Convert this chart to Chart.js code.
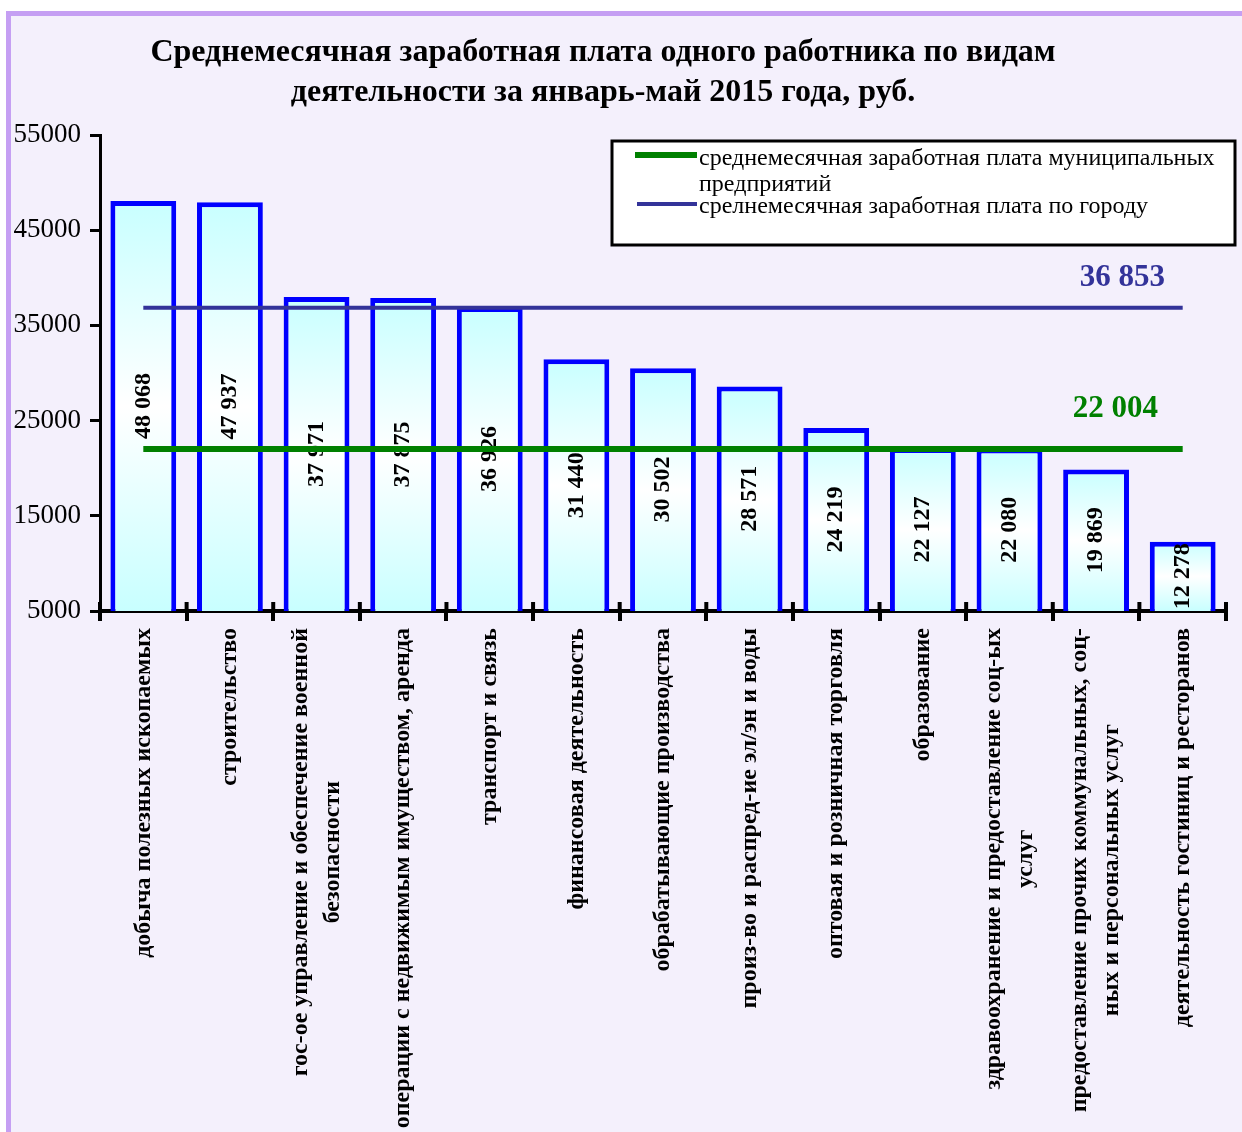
<!DOCTYPE html>
<html>
<head>
<meta charset="utf-8">
<title>Среднемесячная заработная плата</title>
<script src="https://cdn.jsdelivr.net/npm/chart.js@4.4.1/dist/chart.umd.min.js"></script>
<style>
  html, body { margin: 0; padding: 0; background: #fff; }
  #frame {
    position: absolute; left: 6px; top: 11px; width: 1236px; height: 1121px;
    box-sizing: border-box; background: #f4f0fc;
    border-left: 5px solid #c59ff3; border-top: 5px solid #c59ff3;
  }
  #wrap { position: absolute; left: 0; top: 0; width: 1242px; height: 1132px; }
</style>
</head>
<body>
<div id="frame"></div>
<div id="wrap"><canvas id="wageChart"></canvas></div>
<script>
// chart data
const titleLines = [
  'Среднемесячная заработная плата одного работника по видам',
  'деятельности за январь-май 2015 года, руб.'
];
const categories = [
  ['добыча полезных ископаемых'],
  ['строительство'],
  ['гос-ое управление и обеспечение военной', 'безопасности'],
  ['операции с недвижимым имуществом, аренда'],
  ['транспорт и связь'],
  ['финансовая деятельность'],
  ['обрабатывающие производства'],
  ['произ-во и распред-ие эл/эн и воды'],
  ['оптовая и розничная торговля'],
  ['образование'],
  ['здравоохранение и предоставление соц-ых', 'услуг'],
  ['предоставление прочих коммунальных, соц-', 'ных и персональных услуг'],
  ['деятельность гостиниц и ресторанов']
];
const wages = [48068, 47937, 37971, 37875, 36926, 31440, 30502, 28571, 24219, 22127, 22080, 19869, 12278];
const municipalAvg = 22004;
const cityAvg = 36853;
const municipalLabel = ['среднемесячная заработная плата муниципальных', 'предприятий'];
const cityLabel = ['срелнемесячная заработная плата по городу'];
const yMin = 5000, yMax = 55000, yStep = 10000;

const SERIF = '"Liberation Serif", "Times New Roman", serif';
const GREEN = '#008000';
const NAVY = '#333399';

const labels = categories.map(l => l.join(' '));
const fmt = n => String(n).replace(/\B(?=(\d{3})+(?!\d))/g, ' ');

function barFill(context) {
  const chart = context.chart;
  const y = chart.scales.y;
  if (!chart.chartArea || !y || context.type !== 'data') return '#ccffff';
  const top = y.getPixelForValue(context.raw);
  const bottom = y.getPixelForValue(yMin);
  if (!isFinite(top) || !isFinite(bottom) || bottom - top < 1) return '#ccffff';
  const g = chart.ctx.createLinearGradient(0, top, 0, bottom);
  g.addColorStop(0, '#c8ffff');
  g.addColorStop(0.5, '#ffffff');
  g.addColorStop(1, '#c8ffff');
  return g;
}

function rotatedText(ctx, text, x, y, align) {
  ctx.save();
  ctx.translate(x, y);
  ctx.rotate(-Math.PI / 2);
  ctx.textAlign = align;
  ctx.fillText(text, 0, 0);
  ctx.restore();
}

const decor = {
  id: 'decor',
  afterDatasetDraw(chart, args) {
    if (chart.data.datasets[args.index].type !== 'bar') return;
    const ctx = chart.ctx;
    const bottom = chart.scales.y.getPixelForValue(yMin);
    ctx.save();
    ctx.font = 'bold 24px ' + SERIF;
    ctx.fillStyle = '#000';
    ctx.textBaseline = 'middle';
    args.meta.data.forEach((bar, i) => {
      rotatedText(ctx, fmt(wages[i]), bar.x, (bar.y + bottom) / 2, 'center');
    });
    ctx.restore();
  },
  afterDraw(chart) {
    const ctx = chart.ctx;
    const x = chart.scales.x, y = chart.scales.y;
    const area = chart.chartArea;
    ctx.save();

    // title
    ctx.fillStyle = '#000';
    ctx.font = 'bold 32px ' + SERIF;
    ctx.textAlign = 'center';
    ctx.textBaseline = 'middle';
    titleLines.forEach((t, i) => ctx.fillText(t, 603, 53 + i * 40));

    // inner half of the category ticks
    ctx.strokeStyle = '#000';
    ctx.lineWidth = 4;
    for (let i = 0; i <= labels.length; i++) {
      const px = i === 0 ? x.left : i === labels.length ? x.right
        : (x.getPixelForValue(i - 1) + x.getPixelForValue(i)) / 2;
      ctx.beginPath();
      ctx.moveTo(px, area.bottom - 9);
      ctx.lineTo(px, area.bottom);
      ctx.stroke();
    }

    // category labels, rotated
    ctx.font = 'bold 24px ' + SERIF;
    ctx.textBaseline = 'middle';
    categories.forEach((lines, i) => {
      const cx = x.getPixelForValue(i);
      const maxW = Math.max(...lines.map(l => ctx.measureText(l).width));
      const cy = area.bottom + 17 + maxW / 2;
      lines.forEach((l, j) => {
        rotatedText(ctx, l, cx + (j - (lines.length - 1) / 2) * 32, cy, 'center');
      });
    });

    // average value labels
    ctx.font = 'bold 31px ' + SERIF;
    ctx.textAlign = 'right';
    ctx.fillStyle = NAVY;
    ctx.fillText(fmt(cityAvg), 1165, y.getPixelForValue(cityAvg) - 30);
    ctx.fillStyle = GREEN;
    ctx.fillText(fmt(municipalAvg), 1158, y.getPixelForValue(municipalAvg) - 40);

    // legend box
    ctx.fillStyle = '#fff';
    ctx.fillRect(612, 141, 623, 104);
    ctx.strokeStyle = '#000';
    ctx.lineWidth = 3;
    ctx.strokeRect(612, 141, 623, 104);
    ctx.lineWidth = 6;
    ctx.strokeStyle = GREEN;
    ctx.beginPath(); ctx.moveTo(635, 155); ctx.lineTo(697, 155); ctx.stroke();
    ctx.lineWidth = 4;
    ctx.strokeStyle = NAVY;
    ctx.beginPath(); ctx.moveTo(637, 204); ctx.lineTo(697, 204); ctx.stroke();
    ctx.fillStyle = '#000';
    ctx.font = '24px ' + SERIF;
    ctx.textAlign = 'left';
    ctx.fillText(municipalLabel[0], 699, 159);
    ctx.fillText(municipalLabel[1], 699, 185);
    ctx.fillText(cityLabel[0], 699, 207);

    ctx.restore();
  }
};

new Chart(document.getElementById('wageChart'), {
  data: {
    labels: labels,
    datasets: [
      {
        type: 'line',
        label: municipalLabel.join(' '),
        data: [{ x: labels[0], y: municipalAvg }, { x: labels[labels.length - 1], y: municipalAvg }],
        borderColor: GREEN,
        borderWidth: 6,
        pointRadius: 0,
        order: 0
      },
      {
        type: 'line',
        label: cityLabel[0],
        data: [{ x: labels[0], y: cityAvg }, { x: labels[labels.length - 1], y: cityAvg }],
        borderColor: NAVY,
        borderWidth: 4,
        pointRadius: 0,
        order: 0
      },
      {
        type: 'bar',
        label: 'зарплата',
        data: wages,
        backgroundColor: barFill,
        borderColor: '#0000ff',
        borderWidth: 5,
        borderSkipped: false,
        barPercentage: 0.76,
        categoryPercentage: 1.0,
        order: 1
      }
    ]
  },
  options: {
    responsive: true,
    maintainAspectRatio: false,
    animation: false,
    layout: { padding: { top: 135, right: 16, left: 0, bottom: 0 } },
    scales: {
      x: {
        offset: true,
        grid: { offset: true, drawOnChartArea: false, color: '#000', lineWidth: 4, tickLength: 10 },
        border: { color: '#000', width: 4 },
        ticks: { display: false },
        afterFit(s) { s.height = 521; }
      },
      y: {
        min: yMin,
        max: yMax,
        ticks: {
          stepSize: yStep, color: '#000', padding: 9,
          font: { family: SERIF, size: 27 },
          callback: v => String(v)
        },
        grid: { drawOnChartArea: false, color: '#000', lineWidth: 3, tickLength: 10 },
        border: { color: '#000', width: 3 },
        afterFit(s) { s.width = 100; }
      }
    },
    plugins: {
      legend: { display: false },
      tooltip: { enabled: false }
    }
  },
  plugins: [decor]
});
</script>
</body>
</html>
